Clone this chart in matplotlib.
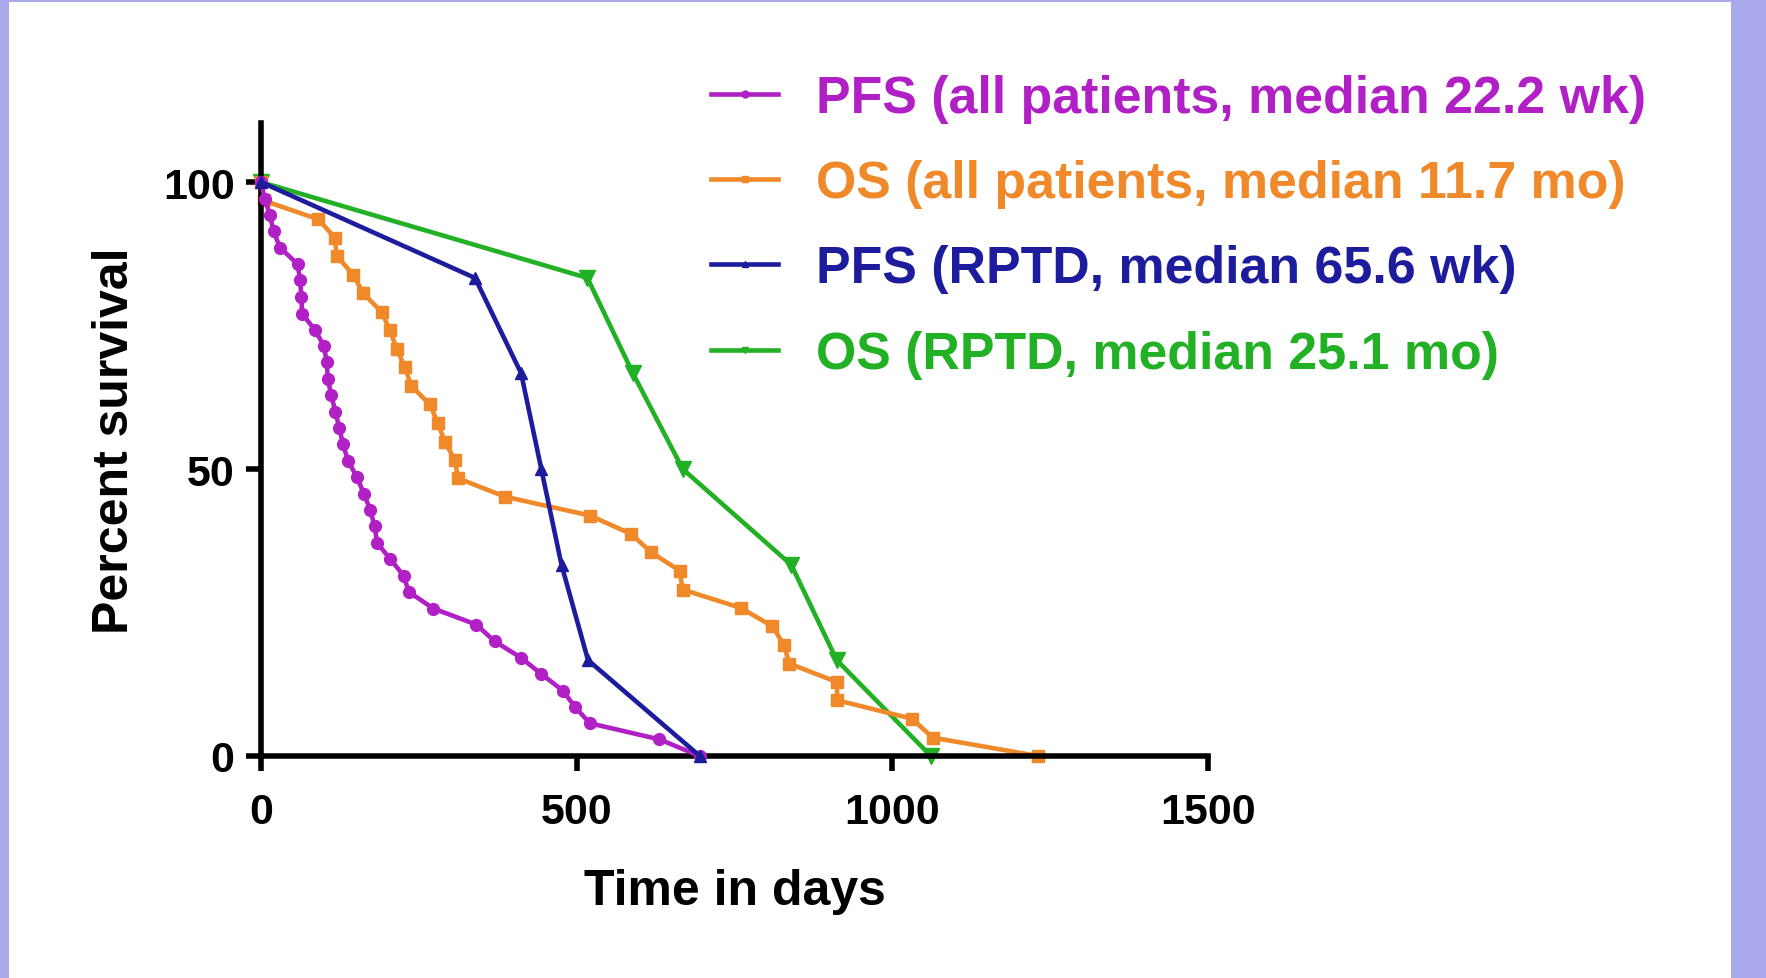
import matplotlib.pyplot as plt
from matplotlib.patches import Rectangle

plt.rcParams['font.family'] = ['Liberation Sans', 'DejaVu Sans']
plt.rcParams['font.weight'] = 'bold'

# PFS, all patients
pfs_all_days = [0, 6, 14, 20, 30, 58, 62, 64, 65, 85, 100, 104, 106, 111, 118, 124,
                130, 138, 152, 163, 173, 180, 184, 205, 226, 234, 273, 341, 370, 412,
                444, 478, 497, 521, 631, 695]
pfs_all_pct = [100, 97.1, 94.3, 91.4, 88.6, 85.7, 82.9, 80.0, 77.1, 74.3, 71.4, 68.6,
               65.7, 62.9, 60.0, 57.1, 54.3, 51.4, 48.6, 45.7, 42.9, 40.0, 37.1, 34.3,
               31.4, 28.6, 25.7, 22.9, 20.0, 17.1, 14.3, 11.4, 8.6, 5.7, 2.9, 0]

# OS, all patients
os_all_days = [0, 4, 91, 117, 120, 146, 162, 191, 204, 215, 228, 238, 267, 280, 291,
               307, 312, 386, 521, 586, 618, 663, 668, 760, 810, 828, 837, 912, 913,
               1031, 1064, 1231]
os_all_pct = [100, 96.8, 93.5, 90.3, 87.1, 83.9, 80.6, 77.4, 74.2, 71.0, 67.7, 64.5,
              61.3, 58.1, 54.8, 51.6, 48.4, 45.2, 41.9, 38.7, 35.5, 32.3, 29.0, 25.8,
              22.6, 19.4, 16.1, 12.9, 9.7, 6.5, 3.2, 0]

# PFS, RPTD
pfs_rptd_days = [0, 339, 412, 444, 476, 518, 695]
pfs_rptd_pct = [100, 83.3, 66.7, 50, 33.3, 16.7, 0]

# OS, RPTD
os_rptd_days = [0, 517, 589, 668, 840, 912, 1061]
os_rptd_pct = [100, 83.3, 66.7, 50, 33.3, 16.7, 0]

labels = ["PFS (all patients, median 22.2 wk)",
          "OS (all patients, median 11.7 mo)",
          "PFS (RPTD, median 65.6 wk)",
          "OS (RPTD, median 25.1 mo)"]
colors = ["#B020C4", "#F0892A", "#1C1C9C", "#22B024"]

fig = plt.figure(figsize=(17.66, 9.79), dpi=100)
fig.patch.set_facecolor("#A9A9EC")

# white panel behind everything
bg = fig.add_axes([0, 0, 1, 1], zorder=-1)
bg.axis("off")
bg.add_patch(Rectangle((9 / 1766, 0), 1722 / 1766, 976 / 979, transform=bg.transAxes,
                       facecolor="white", edgecolor="none"))

ax = fig.add_axes([261 / 1766, 1 - 757 / 979, (1208 - 261) / 1766, (757 - 124) / 979])
ax.set_facecolor("none")

lw = 3.3
ax.plot(pfs_all_days, pfs_all_pct, color=colors[0], lw=lw, marker="o", ms=8.5,
        label=labels[0], clip_on=False, zorder=3)
ax.plot(os_all_days, os_all_pct, color=colors[1], lw=lw, marker="s", ms=8.5,
        label=labels[1], clip_on=False, zorder=2)
ax.plot(pfs_rptd_days, pfs_rptd_pct, color=colors[2], lw=lw, marker="^", ms=9,
        label=labels[2], clip_on=False, zorder=4)
ax.plot(os_rptd_days, os_rptd_pct, color=colors[3], lw=lw, marker="v", ms=11,
        label=labels[3], clip_on=False, zorder=1)

ax.set_xlim(0, 1500)
ax.set_ylim(0, 110.3)
ax.set_xticks([0, 500, 1000, 1500])
ax.set_yticks([0, 50, 100])
for s in ["top", "right"]:
    ax.spines[s].set_visible(False)
for s in ["left", "bottom"]:
    ax.spines[s].set_linewidth(4)
ax.tick_params(width=4, length=11, labelsize=31, pad=8)
ax.tick_params(axis="x", pad=15)

ax.set_xlabel("Time in days", fontsize=36, fontweight="bold", labelpad=26)
ax.set_ylabel("Percent survival", fontsize=36, fontweight="bold", labelpad=18)

leg = fig.legend(loc="upper left", bbox_to_anchor=(690 / 1766, 1 - 54 / 979),
                 frameon=False, fontsize=37.4, handlelength=1.3, handletextpad=0.72,
                 labelspacing=0.7, labelcolor="linecolor", borderaxespad=0)
for h in leg.legend_handles:
    h.set_markersize(5)

fig.savefig("out.png", dpi=100, facecolor=fig.get_facecolor())
